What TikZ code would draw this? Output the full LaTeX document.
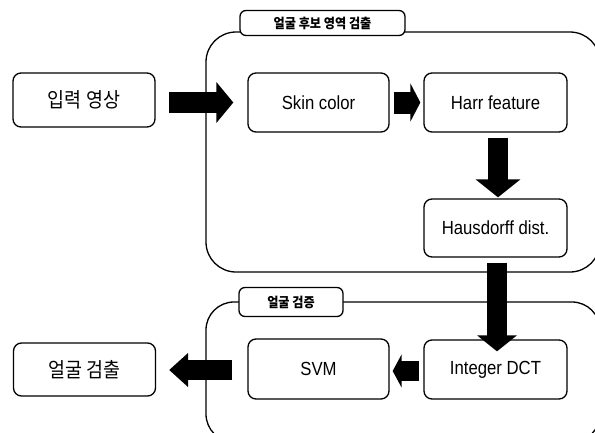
\documentclass[tikz,border=0pt]{standalone}
\usepackage{fontspec}
\setmainfont{Liberation Sans}[FakeStretch=0.88]
\newfontfamily\kr{Noto Sans CJK KR}[FakeStretch=0.9]
\usetikzlibrary{arrows.meta}
\begin{document}
\begin{tikzpicture}[x=1pt,y=-1pt,
  box/.style={draw, line width=1.3pt, rounded corners=8pt, inner sep=0pt, fill=white,
    font=\fontsize{19}{21}\selectfont},
  krbox/.style={box, font=\kr\fontsize{20.5}{22}\selectfont},
  tag/.style={draw, line width=1.3pt, rounded corners=6pt, inner sep=0pt, fill=white,
    font=\kr\bfseries\fontsize{13.5}{15}\selectfont},
  cont/.style={draw, line width=1.3pt},
  fat/.style={line width=#1, -{Triangle[width=40pt, length=17pt]}},
  fat/.default=21pt
]
\useasboundingbox (0,0) rectangle (595,432);
% containers
\draw[cont, rounded corners=30pt] (206,32) rectangle (600,272);
\draw[cont, rounded corners=28pt] (206,302) rectangle (600,442);
\node[tag, minimum width=165pt, minimum height=25pt] (t1) at (322.5,23) {얼굴 후보 영역 검출};
\node[tag, minimum width=104pt, minimum height=29pt] (t2) at (291,302) {얼굴 검증};
% boxes
\node[krbox, minimum width=142pt, minimum height=54pt] (input) at (84,100) {입력 영상};
\node[box, minimum width=141pt, minimum height=59pt] (skin) at (318.5,102.5) {Skin color};
\node[box, minimum width=143pt, minimum height=59pt] (harr) at (495.5,102.5) {Harr feature};
\node[box, minimum width=143pt, minimum height=58pt] (haus) at (495.5,228) {Hausdorff dist.};
\node[box, minimum width=143pt, minimum height=59pt] (idct) at (495.5,369.5) {Integer DCT};
\node[box, minimum width=141pt, minimum height=60pt] (svm) at (318.5,369) {SVM};
\node[krbox, minimum width=142pt, minimum height=53pt] (out) at (84.5,369.5) {얼굴 검출};
% arrows
\draw[fat] ([xshift=13pt]input.east |- skin.west) -- ([xshift=-14pt]skin.west);
\draw[line width=22pt, -{Triangle[width=38pt, length=10pt]}] ([xshift=4pt]skin.east) -- ([xshift=-3pt]harr.west);
\draw[line width=20pt, -{Triangle[width=44pt, length=18pt]}] ([xshift=2.5pt,yshift=-5pt]harr.south) -- ([xshift=2.5pt,yshift=1pt]harr.south |- haus.north);
\draw[line width=20pt, -{Triangle[width=39pt, length=16pt]}] ([xshift=1.5pt,yshift=-5pt]haus.south) -- ([xshift=1.5pt,yshift=-12pt]haus.south |- idct.north);
\draw[line width=20pt, -{Triangle[width=33pt, length=9pt]}] ([xshift=-4pt,yshift=-1.5pt]idct.west) -- ([xshift=3pt,yshift=-1.5pt]idct.west -| svm.east);
\draw[line width=20pt, -{Triangle[width=33pt, length=19pt]}] ([xshift=-15pt,yshift=-1pt]svm.west) -- ([xshift=13pt,yshift=-1pt]svm.west -| out.east);
\end{tikzpicture}
\end{document}
